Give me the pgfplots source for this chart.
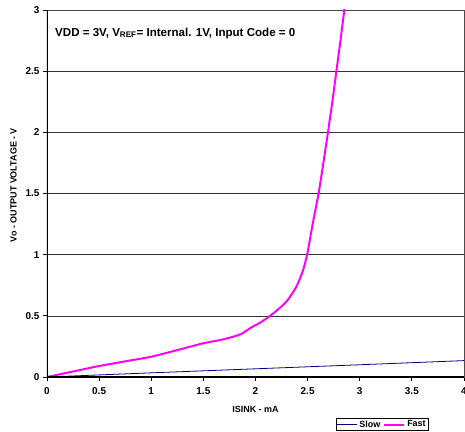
\documentclass[border=0pt]{standalone}
\usepackage{pgfplots}
\pgfplotsset{compat=1.18}
\usepackage{fontspec}
\setmainfont{Liberation Sans}
\definecolor{slowc}{HTML}{000080}
\definecolor{fastc}{HTML}{FF00FF}
\begin{document}
\begin{tikzpicture}
\begin{axis}[
  at={(0,0)}, anchor=south west,
  scale only axis, width=417bp, height=367bp,
  xmin=0, xmax=4, ymin=0, ymax=3,
  xtick={0,0.5,...,4}, ytick={0,0.5,...,3},
  xticklabels={0,0.5,1,1.5,2,2.5,3,3.5,4},
  yticklabels={0,0.5,1,1.5,2,2.5,3},
  /pgf/number format/assume math mode=true,
  tick label style={font=\fontsize{10}{11}\selectfont\bfseries},
  xticklabel style={yshift=-3.5bp},
  xtick pos=bottom, ytick pos=left,
  tick align=outside, major tick length=4bp,
  tick style={black, line width=0.8pt},
  axis line style={black!70, line width=0.6pt},
  ymajorgrids, major grid style={black!80, line width=0.6pt},
  xlabel={ISINK - mA},
  ylabel={Vo - OUTPUT VOLTAGE - V},
  label style={font=\fontsize{9}{10}\selectfont\bfseries},
  xlabel style={at={(axis description cs:0.5,-0.0886)}, anchor=center},
  ylabel style={at={(axis description cs:-0.0803,0.523)}, anchor=center},
  legend columns=2,
  legend style={at={(axis description cs:0.693,-0.1115)}, anchor=north west,
    font=\fontsize{9}{9}\selectfont\bfseries, draw=black, line width=0.6pt,
    inner sep=0.3pt, row sep=0pt,
    /tikz/every even column/.append style={column sep=1pt}},
  legend image code/.code={\draw[#1] (0bp,0bp) -- (20bp,0bp);},
  clip=true,
]
\addplot[slowc, line width=0.8pt] coordinates {
  (0,0) (1,0.034) (2,0.067) (3,0.100) (4,0.134)
};
\addlegendentry{Slow}
\addplot[fastc, line width=2pt, smooth, tension=0.45] coordinates {
  (0,0) (0.25,0.045) (0.5,0.09) (0.75,0.128) (1,0.166) (1.25,0.22)
  (1.5,0.276) (1.66,0.302) (1.78,0.328) (1.87,0.355) (1.95,0.40)
  (2.05,0.447) (2.14,0.50) (2.22,0.555) (2.30,0.62) (2.39,0.735)
  (2.455,0.87) (2.50,1.02) (2.548,1.25) (2.605,1.5) (2.651,1.75)
  (2.695,2.0) (2.737,2.25) (2.776,2.5) (2.815,2.75) (2.852,3.0) (2.868,3.1)
};
\addlegendentry{Fast}
\node[anchor=west, font=\fontsize{11.6}{12}\selectfont\bfseries, inner sep=0pt]
  at (rel axis cs:0.0192,0.937) {VDD = 3V, V\textsubscript{REF}= Internal. 1V, Input Code = 0};
\draw[black, line width=1.5pt] (rel axis cs:0,1) -- (rel axis cs:0,0) -- (rel axis cs:1,0);
\end{axis}
\pgfresetboundingbox
\path[use as bounding box] (-47bp,-55bp) rectangle (418bp,377bp);
\end{tikzpicture}
\end{document}
